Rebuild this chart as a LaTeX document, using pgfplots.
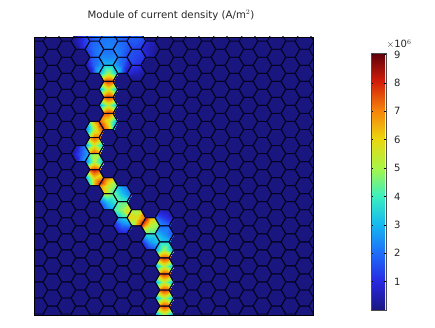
\documentclass[border=0pt]{standalone}
\usepackage{pgfplots}
\usepackage{pgfplotstable}
\usepackage{fontspec}
\setmainfont{DejaVu Sans}
\pgfplotsset{compat=1.18}
\definecolor{hexline}{RGB}{4,4,32}
\definecolor{navy}{RGB}{25,22,128}
\pgfdeclareplotmark{hexcell}{%
  \pgfpathmoveto{\pgfqpoint{-9.33pt}{0pt}}%
  \pgfpathlineto{\pgfqpoint{-4.67pt}{8.03pt}}%
  \pgfpathlineto{\pgfqpoint{4.67pt}{8.03pt}}%
  \pgfpathlineto{\pgfqpoint{9.33pt}{0pt}}%
  \pgfpathlineto{\pgfqpoint{4.67pt}{-8.03pt}}%
  \pgfpathlineto{\pgfqpoint{-4.67pt}{-8.03pt}}%
  \pgfpathclose\pgfusepathqstroke}
\pgfplotstableread{
yE yO
33.2 41.2
49.2 57.3
65.3 73.3
81.3 89.4
97.4 105.4
113.4 121.5
129.5 137.5
145.5 153.6
161.6 169.6
177.6 185.7
193.7 201.7
209.7 217.8
225.8 233.8
241.8 249.9
257.9 265.9
273.9 282.0
290.0 298.0
306.0 314.1
322.1 330.1
}\rowstable
% one hot cell: centre x, y; corners L TL TR R BR BL; centre; edge midpoints UL T UR LR B LL
\newcommand\hex[9]{\def\X{#1}\def\Y{#2}\def\vA{#3}\def\vB{#4}\def\vC{#5}\def\vD{#6}\def\vE{#7}\def\vF{#8}\def\vO{#9}\hexB}
\newcommand\hexB[6]{\def\mA{#1}\def\mB{#2}\def\mC{#3}\def\mD{#4}\def\mE{#5}\def\mF{#6}%
\edef\body{\noexpand\addplot[patch,patch type=triangle,shader=interp,point meta=explicit,forget plot]
 table[row sep=\noexpand\\,x expr=\noexpand\thisrow{dx}+\X,y expr=\noexpand\thisrow{dy}+\Y,meta=m]{
 dx dy m\noexpand\\
 0 0 \vO\noexpand\\ -9.33 0 \vA\noexpand\\ -7 -4.02 \mA\noexpand\\
 0 0 \vO\noexpand\\ -7 -4.02 \mA\noexpand\\ -4.67 -8.03 \vB\noexpand\\
 0 0 \vO\noexpand\\ -4.67 -8.03 \vB\noexpand\\ 0 -8.03 \mB\noexpand\\
 0 0 \vO\noexpand\\ 0 -8.03 \mB\noexpand\\ 4.67 -8.03 \vC\noexpand\\
 0 0 \vO\noexpand\\ 4.67 -8.03 \vC\noexpand\\ 7 -4.02 \mC\noexpand\\
 0 0 \vO\noexpand\\ 7 -4.02 \mC\noexpand\\ 9.33 0 \vD\noexpand\\
 0 0 \vO\noexpand\\ 9.33 0 \vD\noexpand\\ 7 4.02 \mD\noexpand\\
 0 0 \vO\noexpand\\ 7 4.02 \mD\noexpand\\ 4.67 8.03 \vE\noexpand\\
 0 0 \vO\noexpand\\ 4.67 8.03 \vE\noexpand\\ 0 8.03 \mE\noexpand\\
 0 0 \vO\noexpand\\ 0 8.03 \mE\noexpand\\ -4.67 8.03 \vF\noexpand\\
 0 0 \vO\noexpand\\ -4.67 8.03 \vF\noexpand\\ -7 4.02 \mF\noexpand\\
 0 0 \vO\noexpand\\ -7 4.02 \mF\noexpand\\ -9.33 0 \vA\noexpand\\
 };}\body}
\begin{document}
\begin{tikzpicture}[x=1pt,y=1pt]
\path[use as bounding box] (0,0) rectangle (435,328);
\begin{axis}[
  at={(34pt,13pt)},anchor=south west,
  scale only axis,width=279pt,height=278pt,
  xmin=34,xmax=313,ymin=37,ymax=315,y dir=reverse,
  clip mode=individual,clip marker paths=true,axis on top,
  axis background/.style={fill=navy},
  axis line style={draw=black,line width=0.8pt},
  xtick=\empty,ytick=\empty,
  colormap={cs}{
    rgb255(0)=(25,22,128) rgb255(1)=(40,40,225) rgb255(2)=(30,110,250) rgb255(3)=(20,185,240)
    rgb255(4)=(60,240,190) rgb255(5)=(170,245,70) rgb255(6)=(235,215,15) rgb255(7)=(245,130,10)
    rgb255(8)=(210,30,10) rgb255(9)=(95,0,10)},
  point meta min=0,point meta max=9.05,
  colorbar,
  colorbar style={
    at={(1.2079,0.018)},anchor=south west,
    scale only axis,width=15pt,height=257pt,
    ymin=0,ymax=9.05,ytick={1,2,3,4,5,6,7,8,9},
    yticklabel pos=right,
    tick style={draw=black,line width=0.5pt},
    major tick length=2pt,
    tick align=inside,
    axis line style={draw=black!70,line width=0.7pt},
    yticklabel style={font=\fontsize{10}{12}\selectfont,text=black!85,xshift=4.5pt},
    /pgf/number format/assume math mode=true,
    xtick=\empty,
  },
]
% top blue cells
\hex{80.4}{41.2}{0.1}{0.3}{1.4}{1.8}{1.2}{0.1}{0.8}{0.2}{0.8}{1.6}{1.5}{0.6}{0.1}
\hex{94.4}{33.2}{1.5}{1.7}{1.9}{2}{2}{1.5}{1.8}{1.6}{1.8}{2}{2}{1.8}{1.5}
\hex{122.4}{33.2}{2}{1.9}{1.7}{1.6}{1.6}{2}{1.8}{2}{1.8}{1.7}{1.6}{1.8}{2}
\hex{94.4}{49.2}{1.2}{1.7}{2}{2.3}{2.2}{1.4}{2}{1.5}{1.9}{2.2}{2.3}{1.9}{1.2}
\hex{108.4}{41.2}{2.1}{2}{2}{2.1}{2.3}{2.3}{2.2}{2}{2}{2}{2.1}{2.3}{2.1}
\hex{122.4}{49.2}{2.3}{2}{1.7}{1.3}{1.4}{2.2}{2}{2.2}{1.9}{1.5}{1.3}{1.9}{2.3}
\hex{136.4}{41.2}{1.7}{1.8}{1.7}{1.3}{1.2}{1.4}{1.7}{1.8}{1.7}{1.5}{1.2}{1.3}{1.5}
\hex{94.4}{65.3}{0.3}{1.5}{2.1}{2.9}{3.3}{0.4}{1.9}{0.8}{1.9}{2.5}{3.2}{1.9}{0.3}
\hex{108.4}{57.3}{2.4}{2}{2}{2.4}{3}{3}{2.3}{2.2}{2}{2.2}{2.7}{3}{2.7}
\hex{122.4}{65.3}{2.9}{2.1}{1.5}{0.3}{0.4}{3.3}{1.9}{2.5}{1.9}{0.8}{0.3}{1.9}{3.2}
\hex{136.4}{57.3}{1.6}{1.6}{1.4}{1.1}{1}{1.3}{1.4}{1.6}{1.5}{1.2}{1}{1.1}{1.5}
\hex{150.4}{49.2}{1}{0.8}{0.4}{0.1}{0.2}{0.8}{0.5}{0.9}{0.6}{0.2}{0.1}{0.5}{0.9}
\hex{136.4}{73.3}{0.9}{1.3}{1}{0.2}{0.1}{0.1}{0.6}{1.1}{1.2}{0.5}{0.1}{0.1}{0.3}
% channel
\hex{108.4}{73.3}{3}{3.3}{3.3}{3}{7.5}{7.5}{5}{3}{3.3}{3}{5}{7.7}{5}
\hex{108.4}{89.4}{2.7}{7.4}{7.4}{2.7}{7.4}{7.4}{5.6}{5}{7.8}{5}{5}{7.8}{5}
\hex{108.4}{105.4}{2.7}{7.4}{7.4}{2.7}{7.4}{7.4}{5.2}{5}{7.8}{5}{5}{7.8}{5}
\hex{108.4}{121.5}{7.5}{7.5}{6.5}{2.5}{4}{7.5}{5.6}{7}{7.5}{4.5}{3}{6.8}{8}
\hex{94.4}{129.5}{2}{5}{7.5}{8}{7.4}{6}{5.2}{3}{6.5}{8}{6.8}{7.4}{3.4}
\hex{94.4}{145.5}{2.5}{7}{7}{3}{7}{7}{5.5}{4.6}{7.6}{5}{5}{7.7}{5.2}
\hex{80.4}{153.6}{0.2}{0.5}{2.2}{3}{2.8}{0.5}{1.6}{0.3}{1.4}{2.7}{2.9}{1.7}{0.3}
\hex{94.4}{161.6}{2}{4.5}{5}{3}{7.5}{7.5}{5.2}{3}{5}{3.6}{5}{8}{5}
\hex{94.4}{177.6}{2.5}{7.5}{7.5}{7}{8}{4}{6}{4.5}{8}{6}{8}{6.5}{3.4}
\hex{108.4}{185.7}{7}{7.5}{6.2}{4.2}{4}{6}{5.4}{8}{6.8}{4.8}{4.2}{5}{6.5}
\hex{122.4}{193.7}{4.5}{3}{2}{2}{4}{4.5}{3.2}{3.8}{2.5}{2}{3}{4.2}{4.5}
\hex{108.4}{201.7}{1.7}{5}{4.5}{4.2}{3}{1.7}{3.2}{3}{5}{4.2}{3.5}{2.2}{1.5}
\hex{122.4}{209.7}{4}{4.3}{4.5}{6}{4}{3}{4.8}{4}{4.4}{5.7}{6.5}{3.8}{3.5}
\hex{136.4}{217.8}{6}{5}{5.5}{7.5}{8}{4.5}{5.7}{6}{5}{7}{8}{6.5}{5}
\hex{122.4}{225.8}{0.8}{2.8}{3.5}{2}{0.8}{0.5}{1.9}{1.5}{3.2}{3}{1.2}{0.6}{0.6}
\hex{150.4}{225.8}{7.5}{8}{6}{4.5}{4}{4.5}{5.2}{8}{6.5}{5}{4.3}{4}{5}
\hex{164.4}{217.8}{2}{0.7}{0.4}{0.6}{2}{2.5}{1.3}{1.2}{0.5}{0.4}{1.2}{2.3}{2.4}
\hex{164.4}{233.8}{3.3}{2}{2}{1.5}{3}{3.5}{2.5}{2.6}{2}{1.7}{2.2}{3.3}{3.5}
\hex{150.4}{241.8}{1}{3.5}{3.5}{3.3}{1.6}{0.8}{2.6}{2.2}{3.6}{3.4}{2.4}{1.2}{0.8}
\hex{164.4}{249.9}{2.7}{3.6}{3.6}{2.5}{7.5}{7.5}{5}{3}{3.6}{3}{5}{7.7}{5}
\hex{164.4}{265.9}{2.7}{7.4}{7.4}{2.7}{7.4}{7.4}{5.2}{5}{7.8}{5}{5}{7.8}{5}
\hex{164.4}{282.0}{2.7}{7.4}{7.4}{2.7}{7.4}{7.4}{5.2}{5}{7.8}{5}{5}{7.8}{5}
\hex{164.4}{298.0}{2.7}{7.4}{7.4}{2.7}{7.4}{7.4}{5.2}{5}{7.8}{5}{5}{7.8}{5}
\hex{164.4}{314.1}{2.7}{7.4}{7.4}{2.7}{7.4}{7.4}{5.2}{5}{7.8}{5}{5}{7.8}{5}
% hexagon outlines
\pgfplotsforeachungrouped \cx/\cy in {38.4/yE,52.4/yO,66.4/yE,80.4/yO,94.4/yE,108.4/yO,122.4/yE,136.4/yO,150.4/yE,164.4/yO,178.4/yE,192.4/yO,206.4/yE,220.4/yO,234.4/yE,248.4/yO,262.4/yE,276.4/yO,290.4/yE,304.4/yO,318.4/yE}{
  \edef\temp{\noexpand\addplot[only marks,mark=hexcell,mark options={draw=hexline,line width=0.9pt,fill=none},forget plot]
    table[x expr=\cx,y=\cy]{\noexpand\rowstable};}\temp
}
\end{axis}
\node[font=\fontsize{10.2}{12}\selectfont,text=black!85] at (171,312.5) {Module of current density (A/m$^{2}$)};
\node[font=\fontsize{10}{12}\selectfont,text=black!85] at (399,284) {$\times$10$^{6}$};
\end{tikzpicture}
\end{document}
